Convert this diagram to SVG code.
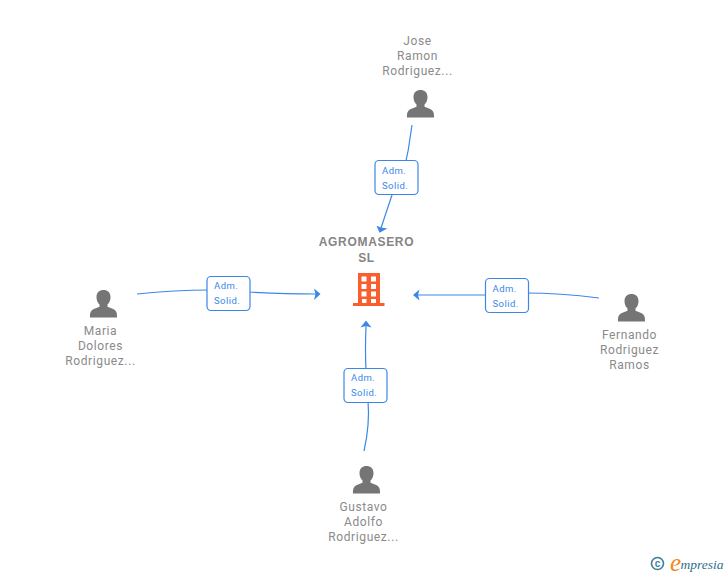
<svg xmlns="http://www.w3.org/2000/svg" width="728" height="575" viewBox="0 0 728 575">
<style>
text{font-family:Roboto,"Liberation Sans",sans-serif}
.n{font-size:12px;fill:#8a8a8a;text-anchor:middle;letter-spacing:.6px}
.c{font-size:12px;font-weight:700;fill:#858585;text-anchor:middle;letter-spacing:.68px;font-family:"Liberation Sans",sans-serif}
.l{font-size:9.5px;fill:#3a87e8;letter-spacing:.45px}
.b{fill:#fff;stroke:#3a87e8;stroke-width:1.2}
.e{fill:none;stroke:#3a87e8;stroke-width:1.2}
.p{fill:#757575}
.a{fill:#3a87e8}
</style>
<defs>
<g id="person"><path class="p" d="M-13.500 13.500C-13.800 8.500-12.500 6-9 4.800L-4 2.800V0.500C-6-1-7-4-7-7C-7-11.500-4-14 0-14S7-11.500 7-7C7-4 6-1 4 0.500V2.800L9 4.800C12.500 6 13.800 8.500 13.500 13.500Z"/></g>
</defs>
<rect width="728" height="575" fill="#fff"/>
<g id="connectors">
<path class="e" d="M412 125Q409 150 403 175"/><path class="e" d="M392 195L381 228"/><path class="a" d="M379.500 232.800L376.600 225.800L381 227.500L387.300 228.600Z"/>
<path class="e" d="M137 294Q175 290 210 290"/><path class="e" d="M248 292Q285 294 316 294"/><path class="a" d="M320.500 294L314 288.500L315.500 294L314 300Z"/>
<path class="e" d="M599 298Q560 293 525 293"/><path class="e" d="M488 295Q450 295 418 295"/><path class="a" d="M413 295L419.500 289.500L418 295L419.500 300.500Z"/>
<path class="e" d="M364 451Q370 425 368 400"/><path class="e" d="M366 370Q365 350 366 326"/><path class="a" d="M366 320.500L360.500 327.500L366 326L371.500 327.500Z"/>
</g>
<g id="label-top"><rect class="b" x="375" y="160.500" width="43" height="34" rx="4"/><text class="l" x="382" y="174">Adm.</text><text class="l" x="382" y="189">Solid.</text></g>
<g id="label-left"><rect class="b" x="207" y="276.500" width="43" height="34" rx="4"/><text class="l" x="214" y="289">Adm.</text><text class="l" x="214" y="304">Solid.</text></g>
<g id="label-right"><rect class="b" x="485.500" y="278.500" width="43" height="34" rx="4"/><text class="l" x="492.500" y="292">Adm.</text><text class="l" x="492.500" y="307">Solid.</text></g>
<g id="label-bottom"><rect class="b" x="344" y="368.500" width="43" height="34" rx="4"/><text class="l" x="351" y="381">Adm.</text><text class="l" x="351" y="396">Solid.</text></g>
<g id="node-company">
<text class="c" x="366.500" y="246">AGROMASERO</text><text class="c" x="366.500" y="262">SL</text>
<path fill="#f95f2e" fill-rule="evenodd" d="M358 273H380V303H384.500V306H353V303H358ZM361.500 276.500V281.500H366.500V276.500ZM371 276.500V281.500H376V276.500ZM361.500 284V289H366.500V284ZM371 284V289H376V284ZM361.500 291.500V296.500H366.500V291.500ZM371 291.500V296.500H376V291.500ZM362 299V303H366.500V299ZM371 299V303H376V299Z"/>
</g>
<g id="node-jose"><text class="n" x="417.500" y="45">Jose</text><text class="n" x="417.500" y="60">Ramon</text><text class="n" x="417.500" y="75">Rodriguez...</text><use href="#person" x="420.500" y="104"/></g>
<g id="node-maria"><text class="n" x="100.500" y="335">Maria</text><text class="n" x="100.500" y="350">Dolores</text><text class="n" x="100.500" y="365">Rodriguez...</text><use href="#person" x="103.500" y="304"/></g>
<g id="node-fernando"><text class="n" x="629.500" y="339">Fernando</text><text class="n" x="629.500" y="354">Rodriguez</text><text class="n" x="629.500" y="369">Ramos</text><use href="#person" x="631.500" y="308"/></g>
<g id="node-gustavo"><text class="n" x="363.500" y="511">Gustavo</text><text class="n" x="363.500" y="526">Adolfo</text><text class="n" x="363.500" y="541">Rodriguez...</text><use href="#person" x="366.500" y="480"/></g>
<g id="logo">
<circle cx="657.500" cy="563.500" r="6" fill="none" stroke="#3d7f97" stroke-width="1.600"/>
<text x="657.500" y="567" font-size="10" font-weight="700" fill="#3d7f97" text-anchor="middle" style="font-family:'Liberation Sans',sans-serif">c</text>
<text x="670" y="571" font-size="25" fill="#f08a1d" style="font-family:'Liberation Serif',serif;font-style:italic">e</text>
<text x="680.500" y="569" font-size="13.500" fill="#2b6f8a" style="font-family:'Liberation Serif',serif;font-style:italic">mpresia</text>
</g>
</svg>
